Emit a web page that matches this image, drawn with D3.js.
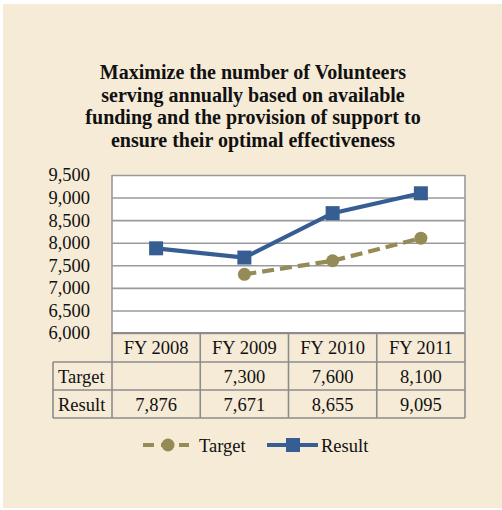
<!DOCTYPE html>
<html><head><meta charset="utf-8">
<script src="https://cdn.jsdelivr.net/npm/d3@7"></script>
<style>
html,body{margin:0;padding:0;background:#fff;}
svg{display:block;}
text{font-family:"Liberation Serif","Times New Roman",serif;fill:#111;}
</style></head>
<body>
<svg id="c" width="502" height="510"></svg>
<script>
const titleLines = ["Maximize the number of Volunteers","serving annually based on available","funding and the provision of support to","ensure their optimal effectiveness"];
const categories = ["FY 2008","FY 2009","FY 2010","FY 2011"];
const targetValues = [null, 7300, 7600, 8100];
const resultValues = [7876, 7671, 8655, 9095];
const yTicks = [6000,6500,7000,7500,8000,8500,9000,9500];
const seriesNames = ["Target","Result"];

const svg = d3.select("#c");
const colTarget = "#958B56", colResult = "#365E93", grid = "#9a9a9a";

svg.append("rect").attr("x",3).attr("y",4).attr("width",499).attr("height",504).attr("fill","#F6EBD7");

svg.append("g").selectAll("text").data(titleLines).join("text")
  .attr("x",253).attr("y",(d,i)=>79+i*22.7)
  .attr("text-anchor","middle").attr("font-weight","bold").attr("font-size","20px")
  .attr("font-family","Liberation Serif")
  .text(d=>d);

const x0=112, x1=465, yTop=175, yBot=333;
const x = d3.scaleBand().domain(categories).range([x0,x1]);
const y = d3.scaleLinear().domain([6000,9500]).range([yBot,yTop]);

svg.append("rect").attr("x",x0).attr("y",yTop).attr("width",x1-x0).attr("height",yBot-yTop).attr("fill","#fff");

const yAxis = d3.axisLeft(y).tickValues(yTicks).tickSize(-(x1-x0)).tickFormat(d3.format(",")).tickPadding(22);
const ga = svg.append("g").attr("transform",`translate(${x0},0)`).call(yAxis);
ga.select(".domain").remove();
ga.selectAll(".tick line").attr("stroke",grid).attr("stroke-width",1.6);
ga.selectAll(".tick text").attr("font-size","18.5px").attr("fill","#111").attr("font-family","Liberation Serif").attr("dy","0.32em");
svg.append("line").attr("x1",x0).attr("x2",x0).attr("y1",yTop).attr("y2",yBot).attr("stroke",grid).attr("stroke-width",1.6);
svg.append("line").attr("x1",x1).attr("x2",x1).attr("y1",yTop).attr("y2",yBot).attr("stroke",grid).attr("stroke-width",1.6);

// data table
const rowY = [yBot, yBot+29, yBot+57, yBot+85];
const labelX0 = 53;
const tb = svg.append("g");
const bc = "#8c8c8c";
tb.append("line").attr("x1",x0).attr("x2",x1).attr("y1",rowY[0]).attr("y2",rowY[0]).attr("stroke",bc).attr("stroke-width",2);
[1,2,3].forEach(i=>tb.append("line").attr("x1",labelX0).attr("x2",x1).attr("y1",rowY[i]).attr("y2",rowY[i]).attr("stroke",bc).attr("stroke-width",1.6));
categories.forEach(c=>tb.append("line").attr("x1",x(c)).attr("x2",x(c)).attr("y1",rowY[0]).attr("y2",rowY[3]).attr("stroke",bc).attr("stroke-width",1.6));
tb.append("line").attr("x1",x1).attr("x2",x1).attr("y1",rowY[0]).attr("y2",rowY[3]).attr("stroke",bc).attr("stroke-width",1.6);
tb.append("line").attr("x1",labelX0).attr("x2",labelX0).attr("y1",rowY[1]).attr("y2",rowY[3]).attr("stroke",bc).attr("stroke-width",1.6);

tb.selectAll("text.h").data(categories).join("text").attr("class","h")
  .attr("x",d=>x(d)+x.bandwidth()/2).attr("y",rowY[0]+21).attr("text-anchor","middle").attr("font-size","18.5px").text(d=>d);
const fmt = d3.format(",");
[targetValues,resultValues].forEach((vals,r)=>{
  tb.append("text").attr("x",labelX0+5).attr("y",rowY[r+1]+21).attr("font-size","18.5px").text(seriesNames[r]);
  tb.selectAll(null).data(vals.map((v,i)=>({v,c:categories[i]}))).join("text")
    .attr("x",d=>x(d.c)+x.bandwidth()/2).attr("y",rowY[r+1]+21).attr("text-anchor","middle").attr("font-size","18.5px")
    .text(d=>d.v==null?"":fmt(d.v));
});

// lines
const cx = c=>x(c)+x.bandwidth()/2;
const tData = categories.map((c,i)=>({c,v:targetValues[i]})).filter(d=>d.v!=null);
const rData = categories.map((c,i)=>({c,v:resultValues[i]}));
const line = d3.line().x(d=>cx(d.c)).y(d=>y(d.v));
svg.append("path").datum(tData).attr("d",line).attr("fill","none").attr("stroke",colTarget).attr("stroke-width",4.2).attr("stroke-dasharray","12,6");
svg.append("path").datum(rData).attr("d",line).attr("fill","none").attr("stroke",colResult).attr("stroke-width",4.2);
svg.selectAll("circle.t").data(tData).join("circle").attr("class","t").attr("cx",d=>cx(d.c)).attr("cy",d=>y(d.v)).attr("r",6.5).attr("fill",colTarget);
svg.selectAll("rect.r").data(rData).join("rect").attr("class","r").attr("x",d=>cx(d.c)-7).attr("y",d=>y(d.v)-7).attr("width",14).attr("height",14).attr("fill",colResult);

// legend
const ly = 445;
const lg = svg.append("g");
lg.append("line").attr("x1",143).attr("x2",189).attr("y1",ly).attr("y2",ly).attr("stroke",colTarget).attr("stroke-width",4.2).attr("stroke-dasharray","11,7");
lg.append("circle").attr("cx",168).attr("cy",ly).attr("r",6.5).attr("fill",colTarget);
lg.append("text").attr("x",199).attr("y",ly+6.5).attr("font-size","18.5px").text(seriesNames[0]);
lg.append("line").attr("x1",267).attr("x2",318).attr("y1",ly).attr("y2",ly).attr("stroke",colResult).attr("stroke-width",4.2);
lg.append("rect").attr("x",286).attr("y",ly-7).attr("width",14).attr("height",14).attr("fill",colResult);
lg.append("text").attr("x",321).attr("y",ly+6.5).attr("font-size","18.5px").text(seriesNames[1]);
</script>
</body></html>
